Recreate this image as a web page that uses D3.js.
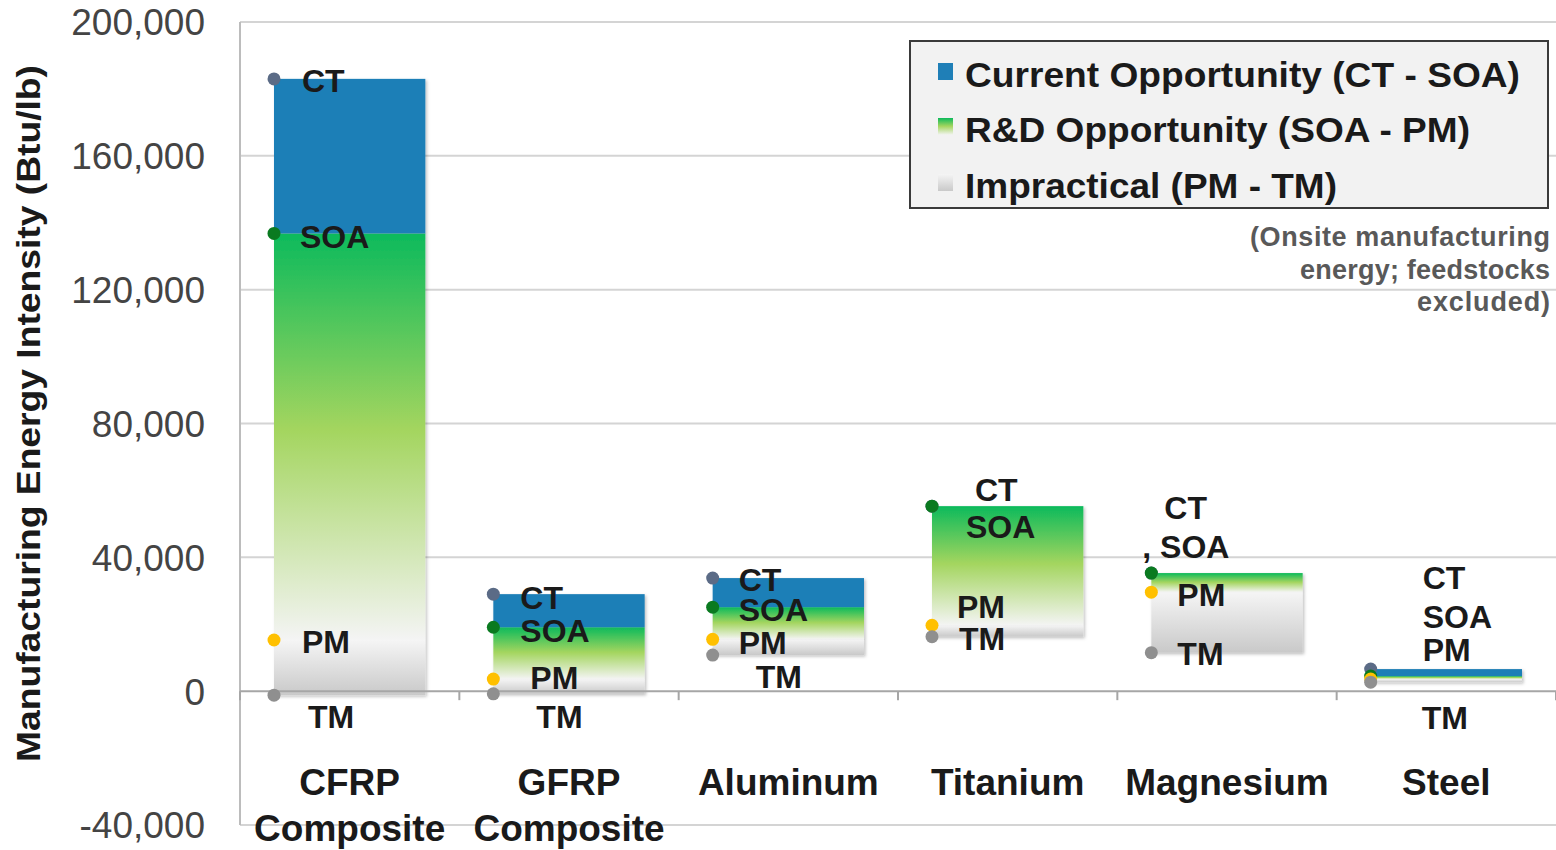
<!DOCTYPE html>
<html>
<head>
<meta charset="utf-8">
<script src="https://cdn.jsdelivr.net/npm/d3@7"></script>
<style>
  html, body { margin: 0; padding: 0; background: #fff; }
  svg { display: block; font-family: "Liberation Sans", Arial, sans-serif; }
</style>
</head>
<body>
<svg id="chart" width="1556" height="850"></svg>
<script>
// ---------- DATA ----------
const categories = ["CFRP Composite", "GFRP Composite", "Aluminum", "Titanium", "Magnesium", "Steel"];
const ctValues  = [183000, 29000, 33800, 55300, 35300, 6600];
const soaValues = [136800, 19100, 25100, 55300, 35300, 4500];
const pmValues  = [15300, 3600, 15500, 19700, 29600, 3600];
const tmValues  = [-1200, -800, 10800, 16300, 11500, 2700];
const yTickValues = [-40000, 0, 40000, 80000, 120000, 160000, 200000];
const seriesNames = ["Current Opportunity (CT - SOA)", "R&D Opportunity (SOA - PM)", "Impractical (PM - TM)"];
const pointNames = ["CT", "SOA", "PM", "TM"];
const yAxisTitle = "Manufacturing Energy Intensity (Btu/lb)";
const noteLines = ["(Onsite manufacturing", "energy; feedstocks", "excluded)"];

// ---------- LAYOUT (pixel offsets of data labels from their dots) ----------
const labelOffsets = [
  [[28, 2], [26, 3], [28, 2], [34, 22]],
  [[27, 4], [27, 4], [37, -1], [43, 23]],
  [[26, 2], [26, 3], [26, 3], [43, 22]],
  [[43, -16], [34, 21], [25, -18], [27, 2]],
  [[13, -65], [-9, -26], [26, 3], [26, 1]],
  [[52, -91], [52, -59], [52, -29], [51, 36]]
];
const labelTexts = [
  pointNames, pointNames, pointNames, pointNames,
  ["CT", ", SOA", "PM", "TM"], pointNames
];
const legendTextWidths = [555, 505, 372];
const noteWidths = [300, 250, 133];

const svg = d3.select("#chart");
const plotL = 240, plotR = 1556, plotT = 22, plotB = 825;

const x = d3.scaleBand().domain(categories).range([plotL, plotR]).paddingInner(0.31).paddingOuter(0.155);
const y = d3.scaleLinear().domain([-40000, 200000]).range([plotB, plotT]);

// ---------- defs ----------
const defs = svg.append("defs");
const gGreen = defs.append("linearGradient").attr("id", "gGreen").attr("x1", 0).attr("y1", 0).attr("x2", 0).attr("y2", 1);
gGreen.append("stop").attr("offset", "0%").attr("stop-color", "#0cba5b");
gGreen.append("stop").attr("offset", "48%").attr("stop-color", "#a3d55e");
gGreen.append("stop").attr("offset", "100%").attr("stop-color", "#f4f4f4");
const gGray = defs.append("linearGradient").attr("id", "gGray").attr("x1", 0).attr("y1", 0).attr("x2", 0).attr("y2", 1);
gGray.append("stop").attr("offset", "0%").attr("stop-color", "#f5f5f5");
gGray.append("stop").attr("offset", "100%").attr("stop-color", "#c9c9c9");
const shadow = defs.append("filter").attr("id", "shadow").attr("x", "-5%").attr("y", "-5%").attr("width", "115%").attr("height", "115%");
shadow.append("feDropShadow").attr("dx", 1.5).attr("dy", 1.5).attr("stdDeviation", 1.5).attr("flood-color", "#000").attr("flood-opacity", 0.25);

// ---------- gridlines ----------
svg.append("g").selectAll("line").data(yTickValues.filter(d => d !== 0)).join("line")
  .attr("x1", plotL).attr("x2", plotR)
  .attr("y1", d => y(d)).attr("y2", d => y(d))
  .attr("stroke", "#d4d4d4").attr("stroke-width", 2);

// left axis line
svg.append("line").attr("x1", plotL).attr("x2", plotL).attr("y1", y(200000)).attr("y2", y(-40000))
  .attr("stroke", "#bcbcbc").attr("stroke-width", 2);

// y tick labels
const fmt = d3.format(",");
const yAxis = d3.axisLeft(y).tickValues(yTickValues).tickSize(0).tickPadding(0)
  .tickFormat(d => fmt(d).replace("\u2212", "-"));
const yAxisG = svg.append("g").attr("transform", `translate(${plotL - 35},0)`).call(yAxis);
yAxisG.select(".domain").remove();
yAxisG.selectAll("text").attr("font-size", 37).attr("fill", "#444").attr("font-family", "Liberation Sans, Arial, sans-serif").attr("dy", "0.35em");

// y title
svg.append("text")
  .attr("transform", `translate(40, ${(65 + 762) / 2}) rotate(-90)`)
  .attr("text-anchor", "middle")
  .attr("font-size", 33).attr("font-weight", "bold").attr("fill", "#1a1a1a")
  .attr("textLength", 697).attr("lengthAdjust", "spacingAndGlyphs")
  .text(yAxisTitle);

// ---------- bars ----------
const rows = categories.map((c, i) => ({ c, i, ct: ctValues[i], soa: soaValues[i], pm: pmValues[i], tm: tmValues[i] }));
const bars = svg.append("g").attr("filter", "url(#shadow)");
rows.forEach(r => {
  const bx = x(r.c), bw = x.bandwidth();
  if (r.pm > r.tm) bars.append("rect").attr("x", bx).attr("width", bw).attr("y", y(r.pm)).attr("height", y(r.tm) - y(r.pm)).attr("fill", "url(#gGray)");
  if (r.soa > r.pm) bars.append("rect").attr("x", bx).attr("width", bw).attr("y", y(r.soa)).attr("height", y(r.pm) - y(r.soa)).attr("fill", "url(#gGreen)");
  if (r.ct > r.soa) bars.append("rect").attr("x", bx).attr("width", bw).attr("y", y(r.ct)).attr("height", y(r.soa) - y(r.ct)).attr("fill", "#1f7fb7");
});

// ---------- zero axis with category ticks ----------
svg.append("line").attr("x1", plotL).attr("x2", plotR).attr("y1", y(0)).attr("y2", y(0))
  .attr("stroke", "#a6a6a6").attr("stroke-width", 2);
const bounds = d3.range(categories.length + 1).map(i => plotL + i * x.step());
svg.append("g").selectAll("line").data(bounds).join("line")
  .attr("x1", d => d).attr("x2", d => d).attr("y1", y(0)).attr("y2", y(0) + 9)
  .attr("stroke", "#a6a6a6").attr("stroke-width", 2);

// ---------- dots ----------
const dotColors = ["#5b6b86", "#0a7a20", "#ffc000", "#8f8f8f"];
const valueSets = [ctValues, soaValues, pmValues, tmValues];
const dotsG = svg.append("g");
valueSets.forEach((vals, k) => {
  dotsG.append("g").selectAll("circle").data(categories).join("circle")
    .attr("cx", d => x(d)).attr("cy", (d, i) => y(vals[i])).attr("r", 6.5)
    .attr("fill", dotColors[k]);
});

// ---------- data labels ----------
const lblG = svg.append("g");
categories.forEach((c, i) => {
  valueSets.forEach((vals, k) => {
    const off = labelOffsets[i][k];
    lblG.append("text")
      .attr("x", x(c) + off[0]).attr("y", y(vals[i]) + off[1])
      .attr("dy", "0.35em")
      .attr("font-size", 32).attr("font-weight", "bold").attr("fill", "#1a1a1a")
      .text(labelTexts[i][k]);
  });
});

// ---------- category labels ----------
const catG = svg.append("g");
categories.forEach(c => {
  const words = c.split(" ");
  const cx = x(c) + x.bandwidth() / 2;
  words.forEach((w, j) => {
    catG.append("text").attr("x", cx).attr("y", 795 + j * 46)
      .attr("text-anchor", "middle").attr("font-size", 37).attr("font-weight", "bold").attr("fill", "#1a1a1a")
      .text(w);
  });
});

// ---------- legend ----------
const lg = svg.append("g");
lg.append("rect").attr("x", 910).attr("y", 41).attr("width", 638).attr("height", 167)
  .attr("fill", "#f2f2f2").attr("stroke", "#3a3a3a").attr("stroke-width", 2);
const swFills = ["#1f7fb7", "url(#gGreen)", "url(#gGray)"];
const rowY = [75, 130, 186];
seriesNames.forEach((s, k) => {
  lg.append("rect").attr("x", 938).attr("y", rowY[k] - 12).attr("width", 15).attr("height", 17).attr("fill", swFills[k]);
  lg.append("text").attr("x", 965).attr("y", rowY[k]).attr("dy", "0.35em")
    .attr("font-size", 35).attr("font-weight", "bold").attr("fill", "#1a1a1a")
    .attr("textLength", legendTextWidths[k]).attr("lengthAdjust", "spacingAndGlyphs")
    .text(s);
});

// ---------- note ----------
const noteY = [237, 270, 302];
noteLines.forEach((t, j) => {
  svg.append("text").attr("x", 1550).attr("y", noteY[j]).attr("dy", "0.35em")
    .attr("text-anchor", "end").attr("font-size", 27).attr("font-weight", "bold").attr("fill", "#595959")
    .attr("textLength", noteWidths[j]).attr("lengthAdjust", "spacing")
    .text(t);
});
</script>
</body>
</html>
